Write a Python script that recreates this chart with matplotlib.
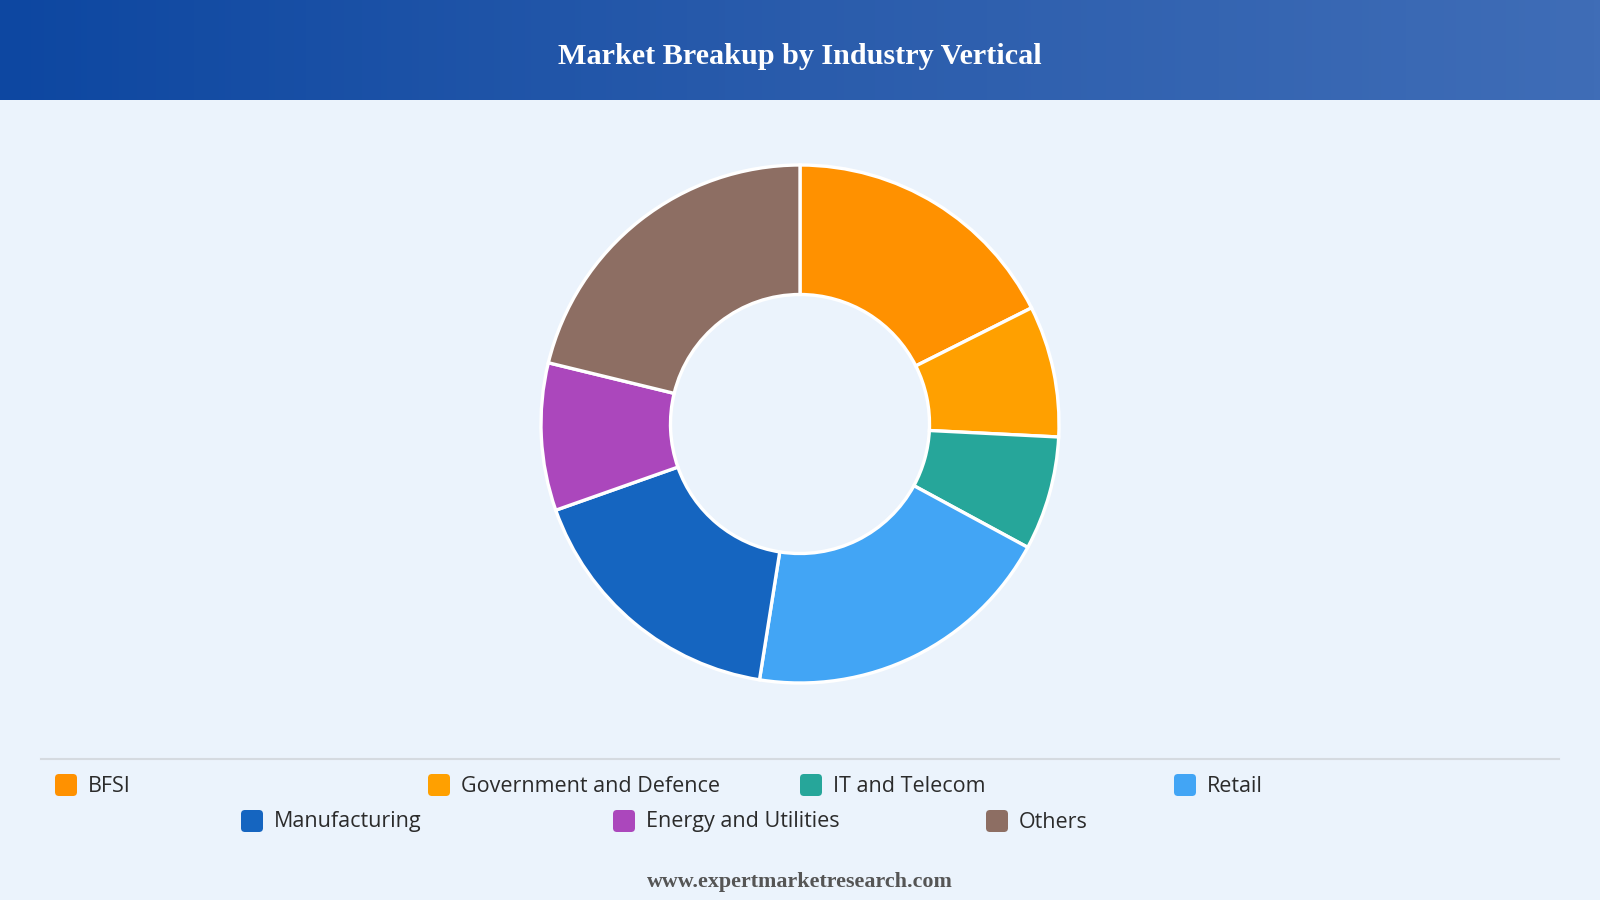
import numpy as np
import matplotlib.pyplot as plt
from matplotlib.patches import FancyBboxPatch
from matplotlib.colors import LinearSegmentedColormap

# data (share in %)
segments = ['BFSI', 'Government and Defence', 'IT and Telecom', 'Retail',
            'Manufacturing', 'Energy and Utilities', 'Others']
shares = [17.6, 8.2, 7.1, 19.6, 17.1, 9.2, 21.2]
colors = ['#FF9100', '#FFA000', '#26A69A', '#42A5F5',
          '#1565C0', '#AB47BC', '#8D6E63']
title = 'Market Breakup by Industry Vertical'
source = 'www.expertmarketresearch.com'

W, H = 1600, 900
fig = plt.figure(figsize=(16, 9), dpi=100)
fig.patch.set_facecolor('#EBF3FC')

# background axes in pixel coords
bg = fig.add_axes([0, 0, 1, 1])
bg.set_xlim(0, W)
bg.set_ylim(H, 0)
bg.axis('off')

# header gradient
grad = LinearSegmentedColormap.from_list('hdr', ['#0D47A1', '#2A5CAC', '#3F6DB7'])
bg.imshow(np.linspace(0, 1, 256).reshape(1, -1), cmap=grad, aspect='auto',
          extent=[0, W, 100, 0], zorder=1)
bg.text(W / 2, 56, title, color='white', fontsize=21.7, fontweight='bold',
        family='Liberation Serif', ha='center', va='center', zorder=2)

# separator above legend
bg.plot([41, 1559], [759, 759], color='#D5DAE0', lw=1.5, zorder=1)

# legend, 4 columns
col_x = [66, 439, 811, 1185]
row2_x = [252, 624, 997]
positions = [(x, 785) for x in col_x] + [(x, 821) for x in row2_x]
for (x, y), name, c in zip(positions, segments, colors):
    bg.add_patch(FancyBboxPatch((x - 11, y - 11), 22, 22,
                                boxstyle='round,pad=0,rounding_size=4',
                                fc=c, ec='none', zorder=2))
    bg.text(x + 22, y + 1, name, color='#2B2B2B', fontsize=15.5,
            family='Open Sans', ha='left', va='center', zorder=2)

bg.text(W / 2, 882, source, color='#555555', fontsize=15.8, fontweight='bold',
        family='Liberation Serif', ha='center', va='center', zorder=2)

# donut
cx, cy, r = 800, 424, 259
pad = 6
ax = fig.add_axes([(cx - r - pad) / W, 1 - (cy + r + pad) / H,
                   2 * (r + pad) / W, 2 * (r + pad) / H])
ax.pie(shares, colors=colors, startangle=90, counterclock=False, radius=1,
       wedgeprops=dict(width=0.5, edgecolor='white', linewidth=2.4))
lim = (r + pad) / r
ax.set_xlim(-lim, lim)
ax.set_ylim(-lim, lim)
ax.set_aspect('equal')
ax.axis('off')

fig.savefig('out.png', dpi=100, facecolor=fig.get_facecolor())
